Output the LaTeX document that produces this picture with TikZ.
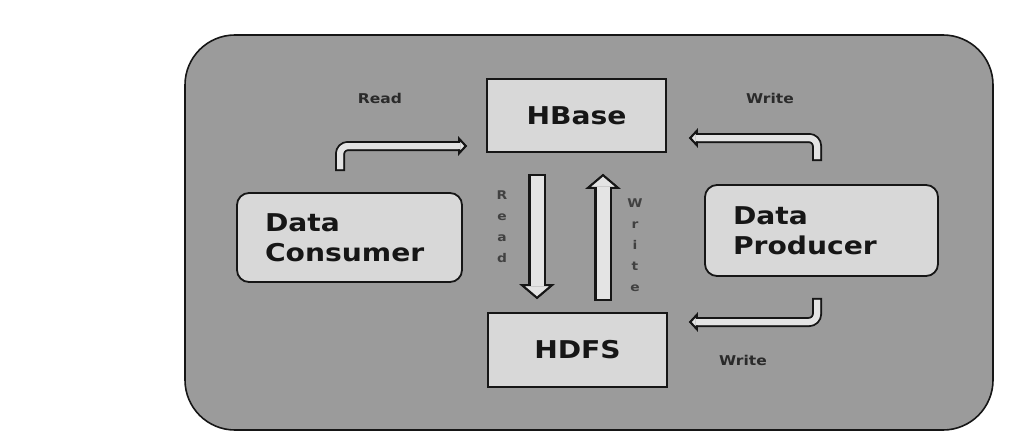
\documentclass[tikz,border=0pt]{standalone}
\usepackage{fontspec}
\setmainfont{DejaVu Sans}
\newfontfamily\hbfont[FakeStretch=1.15]{DejaVu Sans}
\usetikzlibrary{arrows.meta}
\definecolor{hbink}{HTML}{161616}
\definecolor{hbtext}{HTML}{2A2A2A}
\definecolor{hbgray}{HTML}{9B9B9B}
\definecolor{hbpale}{HTML}{D8D8D8}
\definecolor{hbpipe}{HTML}{E4E4E4}
\newcommand{\hbbig}{\hbfont\bfseries\fontsize{24.5}{30}\selectfont}
\newcommand{\hbsmall}{\hbfont\bfseries\fontsize{13.5}{16}\selectfont}
\newcommand{\hbtiny}{\hbfont\bfseries\fontsize{12}{21}\selectfont}
\tikzset{
  hb panel/.style={draw=hbink, line width=1.6pt, rounded corners=50pt, fill=hbgray},
  hb box/.style={draw=hbink, line width=1.8pt, fill=hbpale, font=\hbbig, text=hbink,
    inner sep=0pt},
  hb card/.style={hb box, rounded corners=12pt, align=left, inner xsep=28pt},
  hb note/.style={font=\hbsmall, text=hbtext},
  hb spine/.style={font=\hbtiny, text=hbtext!80!hbgray, align=center},
  hb bent/.style={draw=hbpipe, line width=6pt, rounded corners=8pt, shorten <=2pt,
    -{Triangle[width=19pt, length=9pt, color=hbink, fill=hbpipe, line width=2pt]},
    preaction={draw=hbink, line width=10pt, shorten <=0pt,
      -{Triangle[width=19pt, length=9pt, line width=2pt]}},
    postaction={draw=hbpipe, line width=6pt, -, shorten >=7pt, shorten <=2pt}},
  hb shaft/.style 2 args={draw=hbpipe, line width=13pt, shorten <=#1+2.5pt, shorten >=#2,
    -{Triangle[width=35pt, length=15pt, color=hbink, fill=hbpipe, line width=2pt]},
    preaction={draw=hbink, line width=18pt, shorten <=#1,
      -{Triangle[width=35pt, length=15pt, line width=2pt]}},
    postaction={draw=hbpipe, line width=13pt, -, shorten <=#1+2.5pt, shorten >=#2+13pt}}
}
\begin{document}
\begin{tikzpicture}[x=1pt, y=-1pt]
  \useasboundingbox (0,0) rectangle (1011,436);
  \draw[hb panel] (185,35) rectangle (993,430);
  % stores
  \node[hb box, minimum width=179pt, minimum height=73pt] (hbase) at (576.5,115.5) {HBase};
  \node[hb box, minimum width=179pt, minimum height=74pt] (hdfs) at (577.5,350) {HDFS};
  % clients
  \node[hb card, text width=169pt, minimum height=89pt] (consumer) at (349.5,237.5) {Data\\Consumer};
  \node[hb card, text width=177pt, minimum height=91pt] (producer) at (821.5,230.5) {Data\\Producer};
  % flows
  \draw[hb bent] ([xshift=-9.5pt, yshift=21pt]consumer.north)
    |- ([shift={(-19pt,-30.5pt)}]hbase.west);
  \draw[hb bent] ([xshift=-4.5pt, yshift=23pt]producer.north)
    |- ([shift={(22pt,-22.5pt)}]hbase.east);
  \draw[hb bent] ([xshift=-4.5pt, yshift=-21pt]producer.south)
    |- ([shift={(21pt,28pt)}]hdfs.east);
  \draw[hb shaft={21pt}{13pt}] ([xshift=-39.5pt]hbase.south)
    -- ([xshift=-40.5pt]hdfs.north);
  \draw[hb shaft={11pt}{21pt}] ([xshift=25.5pt]hdfs.north)
    -- ([xshift=26.5pt]hbase.south);
  % labels
  \node[hb note] (readtop) at (380,98) {Read};
  \node[hb note] (writetop) at (770,98) {Write};
  \node[hb note] (writebot) at (743,360) {Write};
  \node[hb spine] (readside) at (502,226.5) {R\\e\\a\\d};
  \node[hb spine] (writeside) at (635,245.5) {W\\r\\i\\t\\e};
\end{tikzpicture}
\end{document}
